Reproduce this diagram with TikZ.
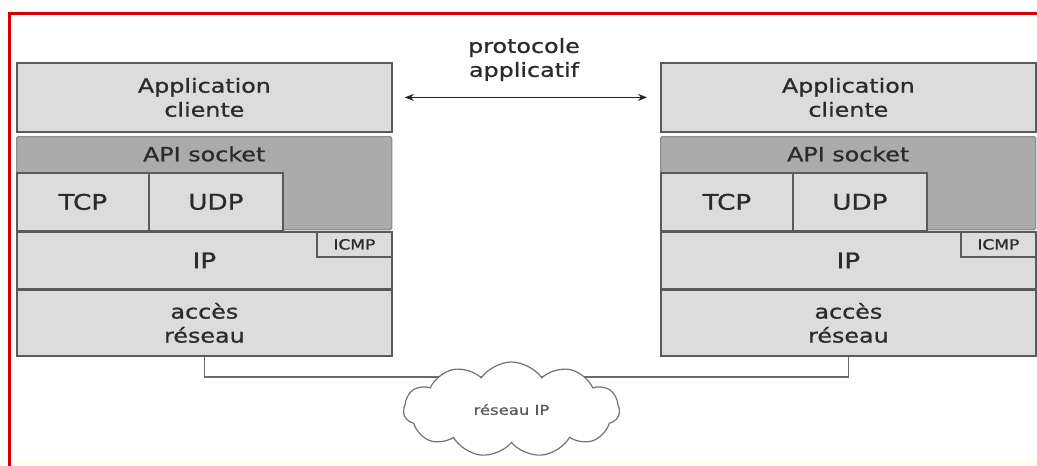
\documentclass[tikz,border=0pt]{standalone}
\usepackage{fontspec}
\setmainfont[FakeStretch=1.22,FakeBold=0.9]{DejaVu Sans}
\usetikzlibrary{shapes.symbols,arrows.meta}

\definecolor{lite}{HTML}{DCDCDC}
\definecolor{shade}{HTML}{ABABAB}
\definecolor{shadeedge}{HTML}{8E8E8E}
\definecolor{edge}{HTML}{5A5A5A}
\definecolor{ink}{HTML}{2B2B2B}
\definecolor{frame}{HTML}{D40000}
\definecolor{paper}{HTML}{FEFEF0}

\begin{document}
\begin{tikzpicture}[x=1pt,y=-1pt,
  layer/.style={rectangle, draw=edge, fill=lite, line width=1.8pt, inner sep=0pt,
    anchor=north west, text=ink, align=center, font=\fontsize{19.5}{24}\selectfont},
  big/.style={font=\fontsize{21.5}{26}\selectfont},
  small/.style={font=\fontsize{14}{16}\selectfont},
  apizone/.style={rectangle, draw=shadeedge, fill=shade, line width=1.4pt, inner sep=0pt,
    anchor=north west, rounded corners=1.5pt},
  caption/.style={text=ink, align=center, font=\fontsize{19.5}{24}\selectfont},
  wire/.style={draw=edge!90, line width=1.8pt},
  link/.style={line width=1.8pt, draw=black!85,
    {Stealth[length=9pt,width=7pt]}-{Stealth[length=9pt,width=7pt]}}
]
\useasboundingbox (0,0) rectangle (1037,466);
\fill[white] (0,0) rectangle (1037,466);
\fill[paper] (11,459) rectangle (1037,466);

% red frame on the top and left sides
\draw[frame, line width=3.4pt] (9.2,466) -- (9.2,13.3) -- (1037,13.3);

% two identical protocol stacks
\foreach \s/\ox in {L/0, R/644} {
  \node[layer, minimum width=375pt, minimum height=69pt] (app\s) at (16+\ox,62) {Application\\cliente};
  \node[apizone, minimum width=375pt, minimum height=93pt] (api\s) at (16+\ox,136) {};
  \node[caption] (apitxt\s) at ([yshift=-18pt]api\s.north) {API socket};
  \node[layer, big, minimum width=132pt, minimum height=58pt] (tcp\s) at (16+\ox,172) {TCP};
  \node[layer, big, minimum width=134pt, minimum height=58pt] (udp\s) at (148+\ox,172) {UDP};
  \node[layer, big, minimum width=375pt, minimum height=57pt] (ip\s) at (16+\ox,231) {IP};
  \node[layer, small, minimum width=75pt, minimum height=25pt] (icmp\s) at (316+\ox,231) {ICMP};
  \node[layer, minimum width=375pt, minimum height=66pt] (acc\s) at (16+\ox,289) {accès\\réseau};
}

% network link between the two hosts
\draw[wire] (accL.south) -- ++(0,20) -| (accR.south);

\node[cloud, cloud puffs=11, cloud puff arc=110, aspect=2.3, draw=edge!85, fill=white,
  line width=1.2pt, minimum width=216pt, minimum height=95pt, text=edge,
  font=\fontsize{13.5}{16}\selectfont] (net) at (511.5,409.5) {réseau IP};

% application protocol
\draw[link, shorten <=12pt, shorten >=13pt] (appL.east) -- (appR.west);
\node[caption] (proto) at (524,59.5) {protocole\\applicatif};
\end{tikzpicture}
\end{document}
